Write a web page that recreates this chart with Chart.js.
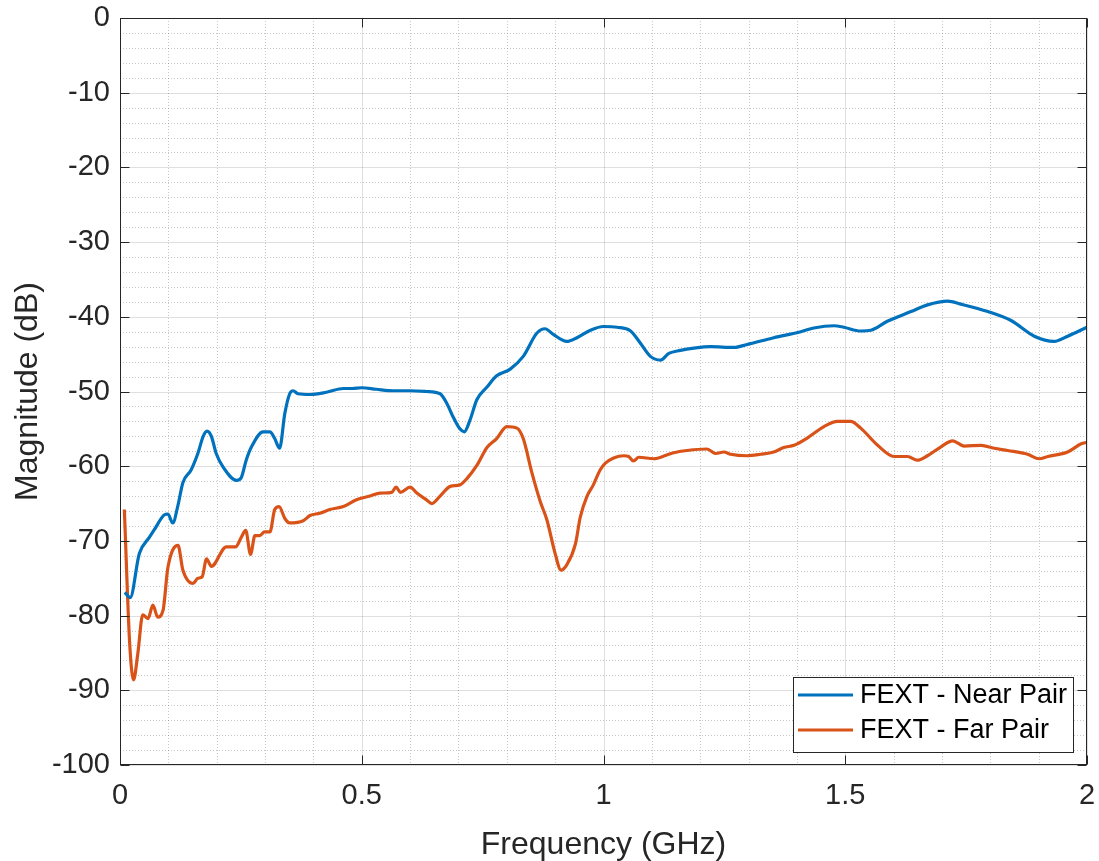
<!DOCTYPE html>
<html>
<head>
<meta charset="utf-8">
<script src="https://cdn.jsdelivr.net/npm/chart.js@4.4.1/dist/chart.umd.min.js"></script>
<style>
  html, body { margin: 0; padding: 0; background: #ffffff; }
  #wrap { width: 1099px; height: 861px; }
</style>
</head>
<body>
<div id="wrap"><canvas id="c" width="1099" height="861"></canvas></div>
<script>
// ---- Data (frequency in GHz, magnitude in dB) ----
const nearFreq = [0.010,0.021,0.040,0.061,0.071,0.092,0.099,0.109,0.120,0.130,0.147,0.161,0.172,0.180,0.189,0.199,0.213,0.241,0.251,0.261,0.272,0.296,0.310,0.320,0.330,0.341,0.351,0.358,0.368,0.393,0.427,0.462,0.480,0.500,0.530,0.565,0.600,0.634,0.662,0.676,0.689,0.703,0.712,0.724,0.738,0.759,0.779,0.807,0.834,0.862,0.879,0.897,0.924,0.945,0.973,1.000,1.028,1.056,1.076,1.097,1.118,1.135,1.159,1.187,1.221,1.270,1.297,1.352,1.408,1.435,1.477,1.497,1.532,1.553,1.587,1.636,1.670,1.712,1.739,1.795,1.843,1.891,1.932,1.960,2.000];
const nearMag  = [-76.9,-77.6,-71.7,-69.5,-68.5,-66.5,-66.4,-67.6,-65.2,-62.2,-60.5,-58.3,-56.0,-55.3,-56.0,-58.3,-60.1,-61.9,-61.5,-59.2,-57.4,-55.4,-55.4,-56.3,-57.6,-52.9,-50.3,-49.9,-50.3,-50.4,-50.1,-49.6,-49.6,-49.5,-49.7,-49.9,-49.9,-50.0,-50.3,-51.6,-53.4,-55.0,-55.4,-53.8,-51.1,-49.4,-47.9,-47.0,-45.3,-42.2,-41.6,-42.4,-43.3,-42.8,-41.8,-41.3,-41.4,-41.9,-43.5,-45.3,-45.8,-44.9,-44.5,-44.2,-44.0,-44.1,-43.7,-42.8,-42.0,-41.5,-41.2,-41.4,-41.9,-41.8,-40.6,-39.3,-38.4,-37.9,-38.3,-39.3,-40.5,-42.6,-43.3,-42.6,-41.4];

const farFreq = [0.009,0.020,0.028,0.037,0.047,0.058,0.068,0.078,0.089,0.099,0.120,0.130,0.151,0.161,0.170,0.179,0.189,0.220,0.239,0.251,0.260,0.270,0.279,0.289,0.299,0.310,0.320,0.329,0.341,0.351,0.379,0.393,0.413,0.434,0.462,0.489,0.517,0.538,0.562,0.571,0.580,0.600,0.614,0.634,0.645,0.662,0.683,0.703,0.717,0.738,0.759,0.779,0.800,0.821,0.834,0.852,0.869,0.883,0.900,0.912,0.924,0.942,0.952,0.966,0.979,0.993,1.004,1.021,1.042,1.052,1.062,1.073,1.104,1.131,1.145,1.173,1.214,1.232,1.249,1.263,1.297,1.325,1.352,1.373,1.394,1.422,1.456,1.484,1.511,1.532,1.567,1.601,1.629,1.649,1.670,1.698,1.722,1.746,1.781,1.808,1.836,1.877,1.901,1.919,1.960,1.988,2.000];
const farMag  = [-65.8,-83.7,-88.6,-85.0,-79.9,-80.4,-78.6,-80.2,-79.3,-73.6,-70.6,-73.9,-75.7,-75.0,-74.8,-72.4,-73.4,-70.8,-70.8,-69.5,-68.6,-71.8,-69.3,-69.3,-68.8,-68.8,-65.8,-65.4,-67.0,-67.6,-67.3,-66.6,-66.3,-65.8,-65.4,-64.5,-64.0,-63.6,-63.5,-62.8,-63.5,-62.8,-63.6,-64.5,-65.0,-64.0,-62.7,-62.5,-61.7,-59.9,-57.5,-56.3,-54.7,-54.9,-56.3,-60.9,-64.7,-67.2,-71.7,-73.9,-73.2,-70.4,-66.8,-64.0,-62.5,-60.5,-59.6,-58.9,-58.6,-58.7,-59.3,-58.8,-59.0,-58.5,-58.2,-57.9,-57.7,-58.3,-58.1,-58.4,-58.6,-58.4,-58.1,-57.5,-57.2,-56.2,-54.7,-54.0,-54.0,-54.9,-57.2,-58.7,-58.7,-59.2,-58.6,-57.4,-56.6,-57.3,-57.2,-57.6,-57.9,-58.4,-59.0,-58.7,-58.1,-57.0,-56.8];

const seriesLabels = ['FEXT - Near Pair', 'FEXT - Far Pair'];
const xTickValues = [0, 0.5, 1, 1.5, 2];
const xTickLabels = ['0', '0.5', '1', '1.5', '2'];
const yTickValues = [0, -10, -20, -30, -40, -50, -60, -70, -80, -90, -100];

const toPoints = (xs, ys) => xs.map((v, i) => ({ x: v, y: ys[i] }));

const TEXT = '#262626';
const FONT = '"Liberation Sans", Arial, Helvetica, sans-serif';

const zeroPad = (s) => { s.paddingTop = 0; s.paddingBottom = 0; s.paddingLeft = 0; s.paddingRight = 0; };

const framePlugin = {
  id: 'frame',
  beforeDatasetsDraw(chart) {
    const { ctx, chartArea: a, scales: { x, y } } = chart;
    ctx.save();
    const seg = (x1, y1, x2, y2) => { ctx.beginPath(); ctx.moveTo(x1, y1); ctx.lineTo(x2, y2); ctx.stroke(); };
    // minor dotted grid
    ctx.strokeStyle = 'rgba(38,38,38,0.26)';
    ctx.lineWidth = 1;
    ctx.setLineDash([1, 2]);
    for (let i = 1; i < 20; i++) {
      if (i % 5 === 0) continue;
      const px = Math.round(x.getPixelForValue(i / 10)) + 0.5;
      seg(px, a.top, px, a.bottom);
    }
    for (let v = -2; v > -100; v -= 2) {
      if (v % 10 === 0) continue;
      const py = Math.round(y.getPixelForValue(v)) + 0.5;
      seg(a.left, py, a.right, py);
    }
    // major solid grid
    ctx.setLineDash([]);
    ctx.strokeStyle = 'rgba(38,38,38,0.15)';
    xTickValues.forEach(v => { const px = Math.round(x.getPixelForValue(v)) + 0.5; seg(px, a.top, px, a.bottom); });
    yTickValues.forEach(v => { const py = Math.round(y.getPixelForValue(v)) + 0.5; seg(a.left, py, a.right, py); });
    ctx.restore();
  },
  afterDatasetsDraw(chart) {
    const { ctx, chartArea: a, scales: { x, y } } = chart;
    ctx.save();
    const seg = (x1, y1, x2, y2) => { ctx.beginPath(); ctx.moveTo(x1, y1); ctx.lineTo(x2, y2); ctx.stroke(); };
    ctx.strokeStyle = TEXT;
    ctx.lineWidth = 1;
    const L = Math.round(a.left) + 0.5, R = Math.round(a.right) - 0.5;
    const T = Math.round(a.top) + 0.5, B = Math.round(a.bottom) - 0.5;
    ctx.strokeRect(L, T, R - L, B - T);
    const tl = 9;
    xTickValues.forEach(v => {
      const px = Math.round(x.getPixelForValue(v)) + 0.5;
      seg(px, B, px, B - tl); seg(px, T, px, T + tl);
    });
    yTickValues.forEach(v => {
      const py = Math.round(y.getPixelForValue(v)) + 0.5;
      seg(L, py, L + tl, py); seg(R, py, R - tl, py);
    });
    // legend
    const lx = 793.5, ly = 677.5, lw = 280, lh = 75;
    ctx.fillStyle = '#ffffff';
    ctx.fillRect(lx, ly, lw, lh);
    ctx.strokeStyle = TEXT;
    ctx.lineWidth = 1;
    ctx.strokeRect(lx, ly, lw, lh);
    ctx.font = '27px ' + FONT;
    ctx.textBaseline = 'middle';
    ctx.textAlign = 'left';
    chart.data.datasets.forEach((ds, i) => {
      const yy = 695 + i * 35;
      ctx.strokeStyle = ds.borderColor;
      ctx.lineWidth = 3;
      seg(798, yy, 853, yy);
      ctx.fillStyle = '#000000';
      ctx.fillText(ds.label, 860, yy + 1);
    });
    ctx.restore();
  }
};

new Chart(document.getElementById('c'), {
  type: 'line',
  data: {
    datasets: [
      { label: seriesLabels[0], data: toPoints(nearFreq, nearMag), borderColor: '#0072BD', borderWidth: 3.2,
        pointRadius: 0, fill: false, cubicInterpolationMode: 'monotone' },
      { label: seriesLabels[1], data: toPoints(farFreq, farMag), borderColor: '#D95319', borderWidth: 3.2,
        pointRadius: 0, fill: false, cubicInterpolationMode: 'monotone' }
    ]
  },
  options: {
    responsive: false,
    animation: false,
    devicePixelRatio: 1,
    layout: { autoPadding: false, padding: { top: 18, right: 12, left: 0, bottom: 0 } },
    plugins: { legend: { display: false }, tooltip: { enabled: false } },
    scales: {
      x: {
        type: 'linear', min: 0, max: 2,
        afterFit(s) { s.height = 96; zeroPad(s); },
        afterBuildTicks(s) { s.ticks = xTickValues.map(v => ({ value: v })); },
        grid: { display: false, drawTicks: false },
        border: { display: false },
        ticks: {
          color: TEXT, padding: 14, maxRotation: 0, autoSkip: false,
          font: { family: FONT, size: 29, lineHeight: 1.2 },
          callback: (v) => { const i = xTickValues.indexOf(v); return i >= 0 ? xTickLabels[i] : ''; }
        },
        title: { display: true, text: 'Frequency (GHz)', color: TEXT,
          font: { family: FONT, size: 32, lineHeight: 1 }, padding: { top: 2, bottom: 0 } }
      },
      y: {
        type: 'linear', min: -100, max: 0,
        afterFit(s) { s.width = 120; zeroPad(s); },
        afterBuildTicks(s) { s.ticks = yTickValues.map(v => ({ value: v })); },
        grid: { display: false, drawTicks: false },
        border: { display: false },
        ticks: {
          color: TEXT, padding: 10, autoSkip: false,
          font: { family: FONT, size: 29, lineHeight: 1.2 },
          callback: (v) => String(v)
        },
        title: { display: true, text: 'Magnitude (dB)', color: TEXT,
          font: { family: FONT, size: 32, lineHeight: 1 }, padding: { top: 12, bottom: 0 } }
      }
    }
  },
  plugins: [framePlugin]
});
</script>
</body>
</html>
